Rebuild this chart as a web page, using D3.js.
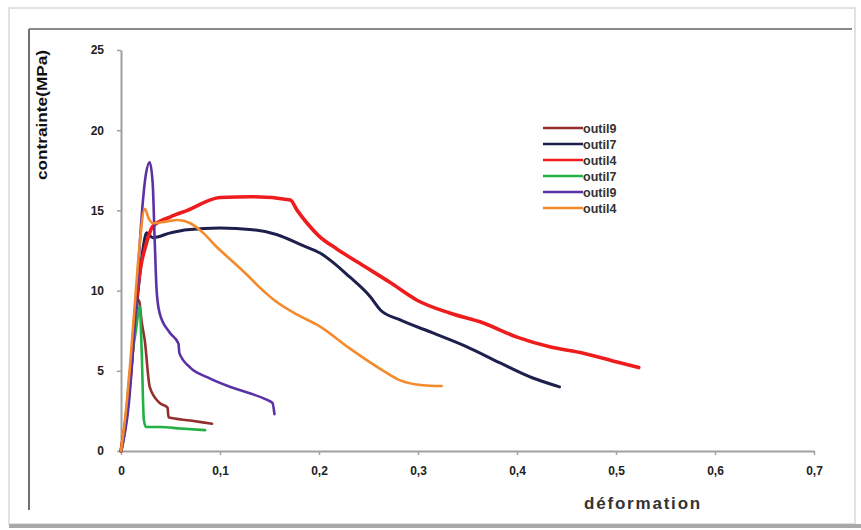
<!DOCTYPE html>
<html>
<head>
<meta charset="utf-8">
<script src="https://cdn.jsdelivr.net/npm/d3@7"></script>
<style>
  body { margin: 0; background: #fff; }
  svg { display: block; font-family: 'Liberation Sans', Arial, sans-serif; }
</style>
</head>
<body>
<div id="chart"></div>
<script>
// series names (legend order) and colours
const seriesNames = ['outil9', 'outil7', 'outil4', 'outil7', 'outil9', 'outil4']
const seriesColors = ['#93302e', '#1d1f4c', '#ee1c1c', '#22b044', '#5a32a6', '#f58a2c']
const seriesWidths = [2.6, 3, 3.6, 2.6, 2.6, 2.6]

// [déformation, contrainte]
const outil9a = [[0, 0], [0.004, 1.5], [0.008, 4], [0.012, 7], [0.015, 9.3], [0.018, 9.4], [0.021, 8], [0.024, 6.9],
  [0.029, 4.0], [0.039, 3.0], [0.047, 2.7], [0.048, 2.1], [0.07, 1.9], [0.092, 1.7]]
const outil7a = [[0, 0], [0.005, 2], [0.01, 5], [0.015, 8.5], [0.019, 11], [0.022, 12.5], [0.026, 13.6], [0.032, 13.3],
  [0.05, 13.6], [0.067, 13.8], [0.1, 13.9], [0.133, 13.8], [0.157, 13.5], [0.184, 12.8], [0.201, 12.34],
  [0.231, 10.85], [0.252, 9.6], [0.262, 8.79], [0.282, 8.17], [0.315, 7.36], [0.35, 6.48], [0.383, 5.49],
  [0.416, 4.55], [0.443, 4.0]]
const outil4a = [[0, 0], [0.005, 2], [0.01, 5], [0.015, 9], [0.02, 11.5], [0.025, 12.8], [0.032, 14.0], [0.05, 14.6],
  [0.067, 15.0], [0.1, 15.8], [0.133, 15.85], [0.171, 15.65], [0.178, 15.0], [0.188, 14.2], [0.2, 13.4],
  [0.218, 12.6], [0.241, 11.7], [0.272, 10.5], [0.299, 9.4], [0.332, 8.6], [0.366, 7.98], [0.4, 7.1],
  [0.433, 6.5], [0.467, 6.1], [0.501, 5.55], [0.523, 5.2]]
const outil7b = [[0, 0], [0.002, 0.5], [0.009, 4.9], [0.015, 7.5], [0.019, 9.0], [0.021, 6], [0.023, 2], [0.025, 1.5],
  [0.04, 1.5], [0.06, 1.4], [0.085, 1.3]]
const outil9b = [[0, 0], [0.008, 3], [0.014, 8], [0.018, 12], [0.022, 15.5], [0.025, 17.2], [0.029, 18.0],
  [0.032, 16.7], [0.034, 13.2], [0.036, 10.0], [0.039, 8.6], [0.049, 7.4], [0.058, 6.7], [0.059, 6.1],
  [0.07, 5.2], [0.087, 4.6], [0.11, 4.0], [0.13, 3.6], [0.147, 3.2], [0.153, 3.0], [0.155, 2.3]]
const outil4b = [[0, 0], [0.005, 2.5], [0.01, 6], [0.015, 10], [0.019, 13], [0.024, 15.1], [0.028, 14.5],
  [0.032, 14.2], [0.045, 14.3], [0.057, 14.4], [0.07, 14.2], [0.083, 13.6], [0.097, 12.7], [0.113, 11.8],
  [0.127, 11.0], [0.14, 10.2], [0.157, 9.3], [0.178, 8.5], [0.2, 7.8], [0.231, 6.4], [0.265, 5.0],
  [0.282, 4.4], [0.305, 4.1], [0.324, 4.05]]
const seriesData = [outil9a, outil7a, outil4a, outil7b, outil9b, outil4b]

const xTicks = [0, 0.1, 0.2, 0.3, 0.4, 0.5, 0.6, 0.7]
const yTicks = [0, 5, 10, 15, 20, 25]

const w = 861, h = 530
const margin = [50, 47, 79, 121] // top, right, bottom, left

const svg = d3.select('#chart').append('svg').attr('width', w).attr('height', h)

// frame
svg.append('rect').attr('x', 9).attr('y', 8).attr('width', 846).attr('height', 516)
  .attr('fill', 'none').attr('stroke', '#e2e2e2').attr('stroke-width', 2)
svg.append('line').attr('x1', 9).attr('x2', 861).attr('y1', 526).attr('y2', 526)
  .attr('stroke', '#a8a8a8').attr('stroke-width', 4)
svg.append('line').attr('x1', 29).attr('x2', 852).attr('y1', 29).attr('y2', 29)
  .attr('stroke', '#8a8a8a').attr('stroke-width', 2)
svg.append('line').attr('x1', 29).attr('x2', 29).attr('y1', 29).attr('y2', 510)
  .attr('stroke', '#707070').attr('stroke-width', 2)

const xScale = d3.scaleLinear().domain([0, 0.7]).range([margin[3], w - margin[1]])
const yScale = d3.scaleLinear().domain([0, 25]).range([h - margin[2], margin[0]])

const fmt = d => d3.format('.1~f')(d).replace('.', ',')

// axes
const xAxis = svg.append('g')
  .attr('transform', `translate(0, ${yScale(0)})`)
  .call(d3.axisBottom(xScale).tickValues(xTicks).tickFormat(fmt).tickSizeInner(4).tickSizeOuter(0).tickPadding(11))
const yAxis = svg.append('g')
  .attr('transform', `translate(${xScale(0)}, 0)`)
  .call(d3.axisLeft(yScale).tickValues(yTicks).tickSizeInner(4).tickSizeOuter(0).tickPadding(13))

;[xAxis, yAxis].forEach(a => {
  a.select('.domain').attr('stroke', '#a0a0a0').attr('stroke-width', 2)
  a.selectAll('.tick line').attr('stroke', '#a0a0a0').attr('stroke-width', 1.5)
  a.selectAll('.tick text').attr('fill', '#222').style('font-size', '12px').style('font-weight', 'bold')
    .style('font-family', "'Liberation Sans', Arial, sans-serif")
})

// curves
const line = d3.line().x(d => xScale(d[0])).y(d => yScale(d[1])).curve(d3.curveMonotoneX)
svg.append('g')
  .selectAll('path')
  .data(seriesData)
  .enter()
  .append('path')
  .attr('d', d => line(d))
  .attr('fill', 'none')
  .attr('stroke', (d, i) => seriesColors[i])
  .attr('stroke-width', (d, i) => seriesWidths[i])
  .attr('stroke-linejoin', 'round')
  .attr('stroke-linecap', 'round')

// legend
const legend = svg.append('g').attr('transform', 'translate(543, 128)')
const item = legend.selectAll('g')
  .data(seriesNames)
  .enter()
  .append('g')
  .attr('transform', (d, i) => `translate(0, ${i * 16})`)
item.append('line').attr('x1', 0).attr('x2', 40).attr('y1', 0).attr('y2', 0)
  .attr('stroke', (d, i) => seriesColors[i]).attr('stroke-width', 2.5)
item.append('text').attr('x', 40).attr('y', 4.5).text(d => d)
  .style('font-size', '12.5px').style('font-weight', 'bold').attr('fill', '#333')

// axis titles
svg.append('text')
  .attr('transform', 'translate(47, 115) rotate(-90)')
  .attr('text-anchor', 'middle')
  .style('font-size', '14px').style('font-weight', 'bold').attr('fill', '#111')
  .attr('textLength', 130).attr('lengthAdjust', 'spacingAndGlyphs')
  .text('contrainte(MPa)')
svg.append('text')
  .attr('x', 643).attr('y', 509)
  .attr('text-anchor', 'middle')
  .style('font-size', '17px').style('font-weight', 'bold').attr('fill', '#333')
  .style('letter-spacing', '1.8px')
  .text('déformation')
</script>
</body>
</html>
